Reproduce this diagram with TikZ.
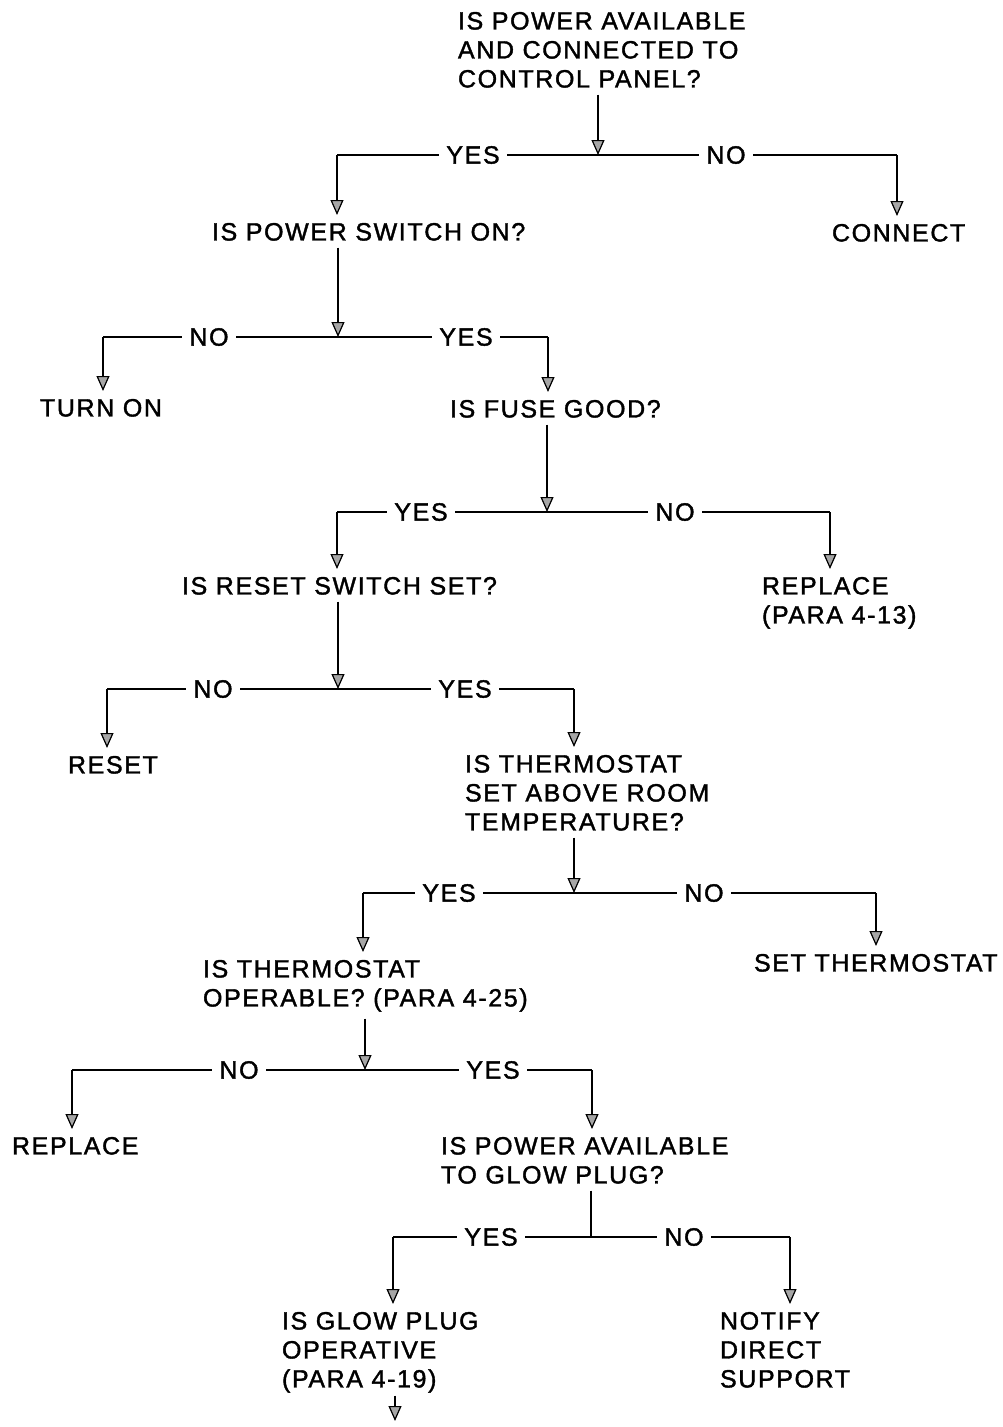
\documentclass[tikz,border=0pt]{standalone}
\usepackage{fontspec}
\setmainfont{Liberation Sans}[LetterSpace=6.5,FakeBold=1.5]
\usetikzlibrary{arrows.meta}
\begin{document}
\begin{tikzpicture}[x=1pt,y=-1pt,
  txt/.style={font=\fontsize{25}{29}\selectfont, inner sep=0pt, outer sep=0pt, align=left, anchor=north west},
  lab/.style={font=\fontsize{25}{29}\selectfont, fill=white, inner xsep=7pt, inner ysep=2pt},
  ln/.style={line width=1.2pt},
  arr/.style={ln, -{Triangle[length=15pt,width=13pt,fill=gray!70]}}]
\useasboundingbox (0,0) rectangle (1002,1427);
% texts
\node[txt] (q1) at (458,12) {IS POWER AVAILABLE\\AND CONNECTED TO\\CONTROL PANEL?};
\node[txt] (cn) at (832,224) {CONNECT};
\node[txt] (q2) at (212,223) {IS POWER SWITCH ON?};
\node[txt] (ton) at (40,399) {TURN ON};
\node[txt] (q3) at (450,400) {IS FUSE GOOD?};
\node[txt] (q4) at (182,577) {IS RESET SWITCH SET?};
\node[txt] (rp1) at (762,577) {REPLACE\\(PARA 4-13)};
\node[txt] (rs) at (68,756) {RESET};
\node[txt] (q5) at (465,755) {IS THERMOSTAT\\SET ABOVE ROOM\\TEMPERATURE?};
\node[txt] (q6) at (203,960) {IS THERMOSTAT\\OPERABLE? (PARA 4-25)};
\node[txt] (st) at (754,954) {SET THERMOSTAT};
\node[txt] (rp2) at (12,1137) {REPLACE};
\node[txt] (q7) at (441,1137) {IS POWER AVAILABLE\\TO GLOW PLUG?};
\node[txt] (q8) at (282,1312) {IS GLOW PLUG\\OPERATIVE\\(PARA 4-19)};
\node[txt] (nd) at (720,1312) {NOTIFY\\DIRECT\\SUPPORT};
% junctions
\coordinate (j1) at (598,155); \coordinate (l1) at (337,155); \coordinate (r1) at (897,155);
\coordinate (j2) at (338,337); \coordinate (l2) at (103,337); \coordinate (r2) at (548,337);
\coordinate (j3) at (547,512); \coordinate (l3) at (337,512); \coordinate (r3) at (830,512);
\coordinate (j4) at (338,689); \coordinate (l4) at (107,689); \coordinate (r4) at (574,689);
\coordinate (j5) at (574,893); \coordinate (l5) at (363,893); \coordinate (r5) at (876,893);
\coordinate (j6) at (365,1070); \coordinate (l6) at (72,1070); \coordinate (r6) at (592,1070);
\coordinate (j7) at (591,1237); \coordinate (l7) at (393,1237); \coordinate (r7) at (790,1237);
\coordinate (e8) at (395,1421);
% level 1
\draw[arr] ([yshift=-7pt]q1.south -| j1) -- (j1);
\draw[ln] (l1) -- (r1);
\draw[arr] (l1) -- ([yshift=8pt]q2.north -| l1);
\draw[arr] (r1) -- ([yshift=8pt]cn.north -| r1);
\node[lab] (y1) at (473,155) {YES};
\node[lab] (n1) at (726,155) {NO};
% level 2
\draw[arr] ([yshift=-7pt]q2.south -| j2) -- (j2);
\draw[ln] (l2) -- (r2);
\draw[arr] (l2) -- ([yshift=8pt]ton.north -| l2);
\draw[arr] (r2) -- ([yshift=8pt]q3.north -| r2);
\node[lab] (n2) at (209,337) {NO};
\node[lab] (y2) at (466,337) {YES};
% level 3
\draw[arr] ([yshift=-7pt]q3.south -| j3) -- (j3);
\draw[ln] (l3) -- (r3);
\draw[arr] (l3) -- ([yshift=8pt]q4.north -| l3);
\draw[arr] (r3) -- ([yshift=8pt]rp1.north -| r3);
\node[lab] (y3) at (421,512) {YES};
\node[lab] (n3) at (675,512) {NO};
% level 4
\draw[arr] ([yshift=-7pt]q4.south -| j4) -- (j4);
\draw[ln] (l4) -- (r4);
\draw[arr] (l4) -- ([yshift=8pt]rs.north -| l4);
\draw[arr] (r4) -- ([yshift=8pt]q5.north -| r4);
\node[lab] (n4) at (213,689) {NO};
\node[lab] (y4) at (465,689) {YES};
% level 5
\draw[arr] ([yshift=-7pt]q5.south -| j5) -- (j5);
\draw[ln] (l5) -- (r5);
\draw[arr] (l5) -- ([yshift=8pt]q6.north -| l5);
\draw[arr] (r5) -- ([yshift=8pt]st.north -| r5);
\node[lab] (y5) at (449,893) {YES};
\node[lab] (n5) at (704,893) {NO};
% level 6
\draw[arr] ([yshift=-7pt]q6.south -| j6) -- (j6);
\draw[ln] (l6) -- (r6);
\draw[arr] (l6) -- ([yshift=8pt]rp2.north -| l6);
\draw[arr] (r6) -- ([yshift=8pt]q7.north -| r6);
\node[lab] (n6) at (239,1070) {NO};
\node[lab] (y6) at (493,1070) {YES};
% level 7
\draw[ln] ([yshift=-7pt]q7.south -| j7) -- (j7);
\draw[ln] (l7) -- (r7);
\draw[arr] (l7) -- ([yshift=8pt]q8.north -| l7);
\draw[arr] (r7) -- ([yshift=8pt]nd.north -| r7);
\node[lab] (y7) at (491,1237) {YES};
\node[lab] (n7) at (684,1237) {NO};
% final
\draw[arr] ([yshift=-3pt]q8.south -| e8) -- (e8);
\end{tikzpicture}
\end{document}
